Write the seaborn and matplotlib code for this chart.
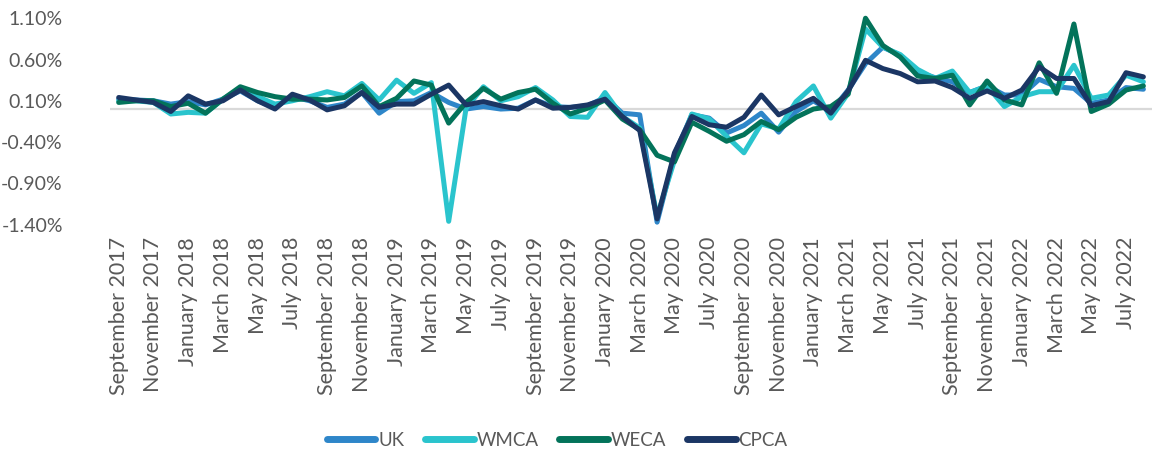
import numpy as np
import pandas as pd
import matplotlib
matplotlib.use("Agg")
import matplotlib.pyplot as plt
from matplotlib.lines import Line2D
import seaborn as sns

# Monthly change (%), September 2017 .. August 2022
uk = [0.12, 0.11, 0.10, 0.06, 0.09, 0.05, 0.12, 0.22, 0.10, 0.02, 0.15, 0.10, 0.02, 0.06, 0.20,
      -0.05, 0.09, 0.10, 0.20, 0.08, 0.00, 0.03, 0.00, 0.01, 0.11, 0.03, 0.02, 0.04, 0.14, -0.05,
      -0.07, -1.37, -0.55, -0.07, -0.11, -0.29, -0.20, -0.05, -0.28, -0.03, 0.10, -0.03, 0.23, 0.55, 0.75,
      0.65, 0.45, 0.38, 0.33, 0.20, 0.28, 0.17, 0.17, 0.36, 0.27, 0.25, 0.07, 0.11, 0.26, 0.24]
wmca = [0.10, 0.10, 0.08, -0.06, -0.04, -0.05, 0.12, 0.25, 0.15, 0.06, 0.10, 0.15, 0.21, 0.16, 0.31,
        0.11, 0.35, 0.19, 0.32, -1.36, 0.01, 0.27, 0.10, 0.15, 0.26, 0.11, -0.09, -0.10, 0.20, -0.09,
        -0.23, -1.30, -0.62, -0.06, -0.12, -0.33, -0.53, -0.18, -0.24, 0.09, 0.28, -0.11, 0.19, 0.97, 0.75,
        0.66, 0.48, 0.37, 0.46, 0.20, 0.28, 0.03, 0.15, 0.21, 0.21, 0.53, 0.13, 0.17, 0.41, 0.33]
weca = [0.08, 0.10, 0.10, 0.03, 0.07, -0.05, 0.12, 0.27, 0.20, 0.15, 0.12, 0.12, 0.11, 0.14, 0.28,
        0.03, 0.13, 0.34, 0.29, -0.17, 0.08, 0.25, 0.12, 0.20, 0.24, 0.07, -0.06, 0.01, 0.11, -0.12,
        -0.25, -0.56, -0.64, -0.16, -0.27, -0.39, -0.31, -0.15, -0.25, -0.10, 0.00, 0.03, 0.18, 1.10, 0.77,
        0.63, 0.40, 0.37, 0.41, 0.05, 0.34, 0.11, 0.05, 0.56, 0.19, 1.03, -0.03, 0.06, 0.23, 0.28]
cpca = [0.14, 0.11, 0.08, -0.03, 0.16, 0.06, 0.10, 0.23, 0.10, 0.00, 0.18, 0.11, -0.01, 0.04, 0.20,
        0.02, 0.06, 0.06, 0.18, 0.29, 0.05, 0.09, 0.04, 0.00, 0.11, 0.01, 0.02, 0.05, 0.12, -0.09,
        -0.26, -1.33, -0.53, -0.09, -0.19, -0.22, -0.10, 0.17, -0.07, 0.03, 0.13, -0.05, 0.22, 0.59, 0.49,
        0.43, 0.33, 0.34, 0.26, 0.13, 0.22, 0.13, 0.23, 0.51, 0.37, 0.37, 0.04, 0.09, 0.44, 0.39]

tick_labels = ["September 2017", "November 2017", "January 2018", "March 2018", "May 2018",
               "July 2018", "September 2018", "November 2018", "January 2019", "March 2019",
               "May 2019", "July 2019", "September 2019", "November 2019", "January 2020",
               "March 2020", "May 2020", "July 2020", "September 2020", "November 2020",
               "January 2021", "March 2021", "May 2021", "July 2021", "September 2021",
               "November 2021", "January 2022", "March 2022", "May 2022", "July 2022"]
y_ticks = [1.10, 0.60, 0.10, -0.40, -0.90, -1.40]

series_names = ["UK", "WMCA", "WECA", "CPCA"]
colors = ["#2E86C9", "#2AC4CD", "#03735A", "#1B3664"]

n = len(uk)
df = pd.DataFrame({
    "month": np.tile(np.arange(n), 4),
    "value": uk + wmca + weca + cpca,
    "series": np.repeat(series_names, n),
})

sns.set_theme(style="white")
plt.rcParams["font.family"] = ["Lato", "DejaVu Sans"]
text_color = "#595959"

fig = plt.figure(figsize=(11.63, 4.53), dpi=100)
ax = fig.add_axes([0.0946, 0.495, 0.896, 0.483])
ax.axhline(0, color="#D9D9D9", lw=1.6, zorder=1)

sns.lineplot(data=df, x="month", y="value", hue="series", hue_order=series_names,
             palette=dict(zip(series_names, colors)), lw=3.6, ax=ax, legend=False,
             sort=False, solid_joinstyle="round", solid_capstyle="round", zorder=3)

ax.set_xlim(-0.5, n - 0.5)
ax.set_ylim(-1.45, 1.2)
ax.set_xticks(np.arange(0, n, 2)[:len(tick_labels)])
ax.set_xticklabels(tick_labels, rotation=90)
ax.set_yticks(y_ticks)
ax.set_yticklabels([f"{v:.2f}%" for v in y_ticks])
ax.set_xlabel("")
ax.set_ylabel("")
for s in ax.spines.values():
    s.set_visible(False)
ax.tick_params(axis="y", length=0, pad=34, labelsize=14, labelcolor=text_color)
ax.tick_params(axis="x", length=0, pad=6, labelsize=15.5, labelcolor=text_color)
for lbl in ax.get_yticklabels():
    lbl.set_horizontalalignment("right")

handles = [Line2D([0], [0], color=c, lw=5, solid_capstyle="round") for c in colors]
fig.legend(handles, series_names, loc="center", bbox_to_anchor=(0.479, 0.028), ncol=4,
           frameon=False, fontsize=13.5, labelcolor=text_color, handlelength=2.6,
           handletextpad=0.15, columnspacing=1.1)

fig.savefig("out.png", dpi=100)
